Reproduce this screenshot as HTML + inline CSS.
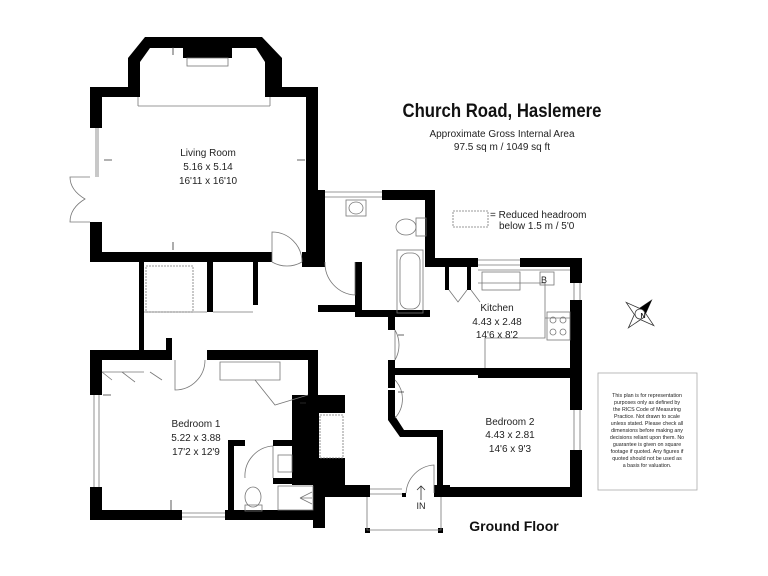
<!DOCTYPE html>
<html><head><meta charset="utf-8"><style>
html,body{margin:0;padding:0;background:#fff}
svg{display:block}
text{font-family:"Liberation Sans",Arial,sans-serif;fill:#222}
</style></head><body>
<svg width="768" height="576" viewBox="0 0 768 576" xmlns="http://www.w3.org/2000/svg">
<g fill="#000">
<polygon points="145,37 262,37 282,58 282,97 265,97 265,62 256,48 150,48 140,62 140,97 128,97 128,58"/>
<rect x="183" y="47" width="49" height="11"/>
<rect x="90" y="87" width="50" height="10"/>
<rect x="265" y="87" width="53" height="10"/>
<rect x="90" y="87" width="12" height="41"/>
<rect x="90" y="222" width="12" height="40"/>
<rect x="306" y="87" width="12" height="171"/>
<rect x="302" y="252" width="16" height="15"/>
<rect x="90" y="252" width="182" height="10"/>
<rect x="318" y="190" width="7" height="77"/>
<rect x="382" y="190" width="53" height="10"/>
<rect x="425" y="190" width="10" height="77"/>
<rect x="355" y="262" width="7" height="55"/>
<rect x="318" y="305" width="40" height="7"/>
<rect x="355" y="310" width="75" height="7"/>
<rect x="388" y="317" width="7" height="13"/>
<rect x="425" y="258" width="53" height="9"/>
<rect x="520" y="258" width="62" height="9"/>
<rect x="570" y="258" width="12" height="25"/>
<rect x="570" y="300" width="12" height="110"/>
<rect x="570" y="450" width="12" height="47"/>
<rect x="445" y="267" width="4" height="23"/>
<rect x="467" y="267" width="4" height="23"/>
<rect x="388" y="360" width="7" height="28"/>
<rect x="388" y="368" width="182" height="7"/>
<rect x="478" y="368" width="92" height="10"/>
<polygon points="388,390 395,390 395,416 404,430 443,430 443,490 437,490 437,437 400,437 388,420"/>
<rect x="437" y="487" width="145" height="10"/>
<rect x="139" y="262" width="5" height="88"/>
<rect x="207" y="262" width="6" height="50"/>
<rect x="253" y="262" width="5" height="43"/>
<rect x="166" y="338" width="6" height="14"/>
<rect x="90" y="350" width="82" height="10"/>
<rect x="207" y="350" width="111" height="10"/>
<rect x="90" y="350" width="12" height="45"/>
<rect x="90" y="487" width="12" height="33"/>
<rect x="90" y="510" width="92" height="10"/>
<rect x="225" y="510" width="100" height="10"/>
<rect x="308" y="350" width="10" height="47"/>
<rect x="228" y="440" width="6" height="80"/>
<rect x="228" y="440" width="17" height="6"/>
<rect x="273" y="440" width="19" height="6"/>
<rect x="273" y="478" width="19" height="6"/>
<rect x="292" y="395" width="53" height="18"/>
<rect x="292" y="395" width="27" height="90"/>
<rect x="292" y="458" width="53" height="27"/>
<rect x="313" y="485" width="57" height="12"/>
<rect x="313" y="485" width="12" height="43"/>
<rect x="402" y="493" width="4" height="4"/>
<rect x="434" y="485" width="16" height="12"/>
<rect x="365" y="528" width="5" height="5"/>
<rect x="438" y="528" width="5" height="5"/>
</g>
<g fill="none" stroke="#777" stroke-width="0.8">
<line x1="96" y1="128" x2="96" y2="177"/><line x1="98" y1="128" x2="98" y2="177"/>
<line x1="325" y1="192" x2="382" y2="192"/><line x1="325" y1="197" x2="382" y2="197"/>
<line x1="478" y1="260" x2="520" y2="260"/><line x1="478" y1="265" x2="520" y2="265"/>
<line x1="574" y1="283" x2="574" y2="300"/><line x1="580" y1="283" x2="580" y2="300"/>
<line x1="574" y1="410" x2="574" y2="450"/><line x1="580" y1="410" x2="580" y2="450"/>
<line x1="94" y1="395" x2="94" y2="487"/><line x1="99" y1="395" x2="99" y2="487"/>
<line x1="182" y1="513" x2="225" y2="513"/><line x1="182" y1="517" x2="225" y2="517"/>
<line x1="370" y1="489" x2="402" y2="489"/><line x1="370" y1="494" x2="402" y2="494"/>
<line x1="138" y1="106" x2="270" y2="106"/><line x1="138" y1="97" x2="138" y2="106"/><line x1="270" y1="97" x2="270" y2="106"/>
<rect x="187" y="58" width="41" height="8"/>
<path d="M90,177 L70,177 Q70,190 85,199 Q70,208 70,222 L90,222"/>
<path d="M272,262 A30,30 0 0 0 302,262"/><path d="M272,262 L272,232 A30,30 0 0 1 302,262"/>
<path d="M325,262 A32,32 0 0 0 355,295 L355,262"/>
<path d="M395,330 L395,360 M395,330 A30,30 0 0 1 395,360"/>
<path d="M395,380 A28,28 0 0 1 395,418"/>
<path d="M406,493 A30,30 0 0 1 434,465 L434,493"/>
<path d="M175,360 L175,390 A30,30 0 0 0 205,360"/>
<path d="M273,446 L273,478 M273,446 A30,30 0 0 0 245,478"/>
<rect x="146" y="266" width="47" height="46" stroke-dasharray="2,1"/>
<path d="M144,312 L207,312 M213,312 L253,312"/>
<path d="M102,372 L144,372 M102,372 L112,380 M122,372 L135,382 M150,372 L162,380"/>
<path d="M220,362 L280,362 L280,380 L220,380 Z"/>
<path d="M255,380 L275,405 L308,395"/>
<path d="M449,290 L458,302 L467,290 M471,290 L480,302"/>
<path d="M478,270 L570,270 M478,283 L545,283 L545,338 L485,338 L485,368 M545,318 L570,318"/>
<rect x="482" y="272" width="38" height="18"/><rect x="540" y="272" width="14" height="13"/>
<rect x="547" y="312" width="23" height="28"/>
<circle cx="553" cy="320" r="3"/><circle cx="563" cy="320" r="3"/><circle cx="553" cy="332" r="3"/><circle cx="563" cy="332" r="3"/>
<rect x="346" y="200" width="20" height="16"/><ellipse cx="356" cy="208" rx="7" ry="6"/>
<ellipse cx="406" cy="227" rx="10" ry="8"/><rect x="416" y="218" width="10" height="18"/>
<rect x="397" y="250" width="26" height="63"/><rect x="400" y="253" width="20" height="56" rx="8"/>
<rect x="278" y="455" width="14" height="17"/>
<ellipse cx="253" cy="497" rx="8" ry="10"/><rect x="245" y="505" width="17" height="6"/>
<rect x="278" y="486" width="35" height="24"/>
<path d="M300,498 L312,492 M300,498 L312,498 M300,498 L312,504"/>
<rect x="320" y="415" width="23" height="43" stroke-dasharray="2,1"/>
<rect x="453" y="211" width="35" height="16" stroke-dasharray="2,1"/>
<path d="M367,497 L367,530 L441,530 L441,497"/>
<rect x="598" y="373" width="99" height="117" stroke="#aaa"/>
</g>
<g stroke="#333" stroke-width="0.8" fill="none">
<path d="M421,500 L421,486 M417,490 L421,486 L425,490"/>
<path d="M173,250 L173,242 M173,47 L173,55 M104,160 L112,160 M297,160 L305,160"/>
<path d="M103,395 L111,395 M171,500 L171,510 M300,403 L306,403 M398,335 L404,335 M398,392 L404,392"/>
</g>
<g transform="translate(640,314) rotate(40)">
<polygon points="0,-18 4,-4 18,0 4,4 0,18 -4,4 -18,0 -4,-4" fill="#fff" stroke="#333" stroke-width="0.8"/>
<polygon points="0,-18 4,-4 -4,-4" fill="#000"/>
<circle r="5" fill="#fff" stroke="#333" stroke-width="0.8"/>
</g>
<text x="643" y="318" font-size="7" text-anchor="middle" font-weight="bold">N</text>
<text x="502" y="117" font-size="19" font-weight="bold" text-anchor="middle" textLength="199" lengthAdjust="spacingAndGlyphs" style="fill:#111">Church Road, Haslemere</text>
<text x="502" y="137" font-size="10" text-anchor="middle">Approximate Gross Internal Area</text>
<text x="502" y="150" font-size="10" text-anchor="middle">97.5 sq m / 1049 sq ft</text>
<text x="490" y="218" font-size="10">=  Reduced headroom</text>
<text x="499" y="229" font-size="10">below 1.5 m / 5'0</text>
<text x="208" y="156" font-size="10" text-anchor="middle">Living Room</text>
<text x="208" y="170" font-size="10" text-anchor="middle">5.16 x 5.14</text>
<text x="208" y="184" font-size="10" text-anchor="middle">16'11 x 16'10</text>
<text x="196" y="427" font-size="10" text-anchor="middle">Bedroom 1</text>
<text x="196" y="441" font-size="10" text-anchor="middle">5.22 x 3.88</text>
<text x="196" y="455" font-size="10" text-anchor="middle">17'2 x 12'9</text>
<text x="497" y="311" font-size="10" text-anchor="middle">Kitchen</text>
<text x="497" y="325" font-size="10" text-anchor="middle">4.43 x 2.48</text>
<text x="497" y="338" font-size="10" text-anchor="middle">14'6 x 8'2</text>
<text x="510" y="425" font-size="10" text-anchor="middle">Bedroom 2</text>
<text x="510" y="438" font-size="10" text-anchor="middle">4.43 x 2.81</text>
<text x="510" y="452" font-size="10" text-anchor="middle">14'6 x 9'3</text>
<text x="421" y="509" font-size="9" text-anchor="middle">IN</text>
<text x="544" y="283" font-size="9" text-anchor="middle">B</text>
<text x="514" y="531" font-size="14" font-weight="bold" text-anchor="middle" style="fill:#111">Ground Floor</text>
<g font-size="5.3" text-anchor="middle">
<text x="647" y="397">This plan is for representation</text>
<text x="647" y="404">purposes only as defined by</text>
<text x="647" y="411">the RICS Code of Measuring</text>
<text x="647" y="418">Practice. Not drawn to scale</text>
<text x="647" y="425">unless stated. Please check all</text>
<text x="647" y="432">dimensions before making any</text>
<text x="647" y="439">decisions reliant upon them. No</text>
<text x="647" y="446">guarantee is given on square</text>
<text x="647" y="453">footage if quoted. Any figures if</text>
<text x="647" y="460">quoted should not be used as</text>
<text x="647" y="467">a basis for valuation.</text>
</g>
</svg>
</body></html>
